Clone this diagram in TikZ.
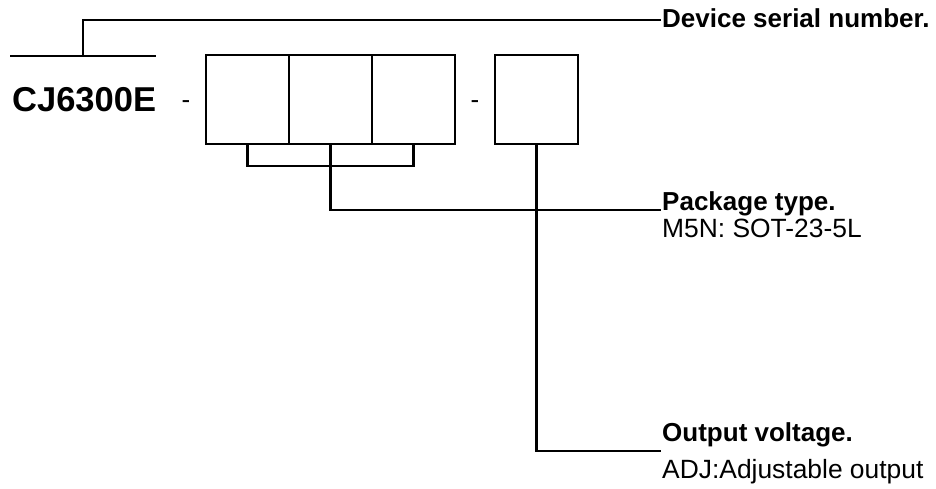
\documentclass[tikz,border=0pt]{standalone}
\usepackage{fontspec}
\setmainfont{Liberation Sans}
\begin{document}
\begin{tikzpicture}[x=1pt,y=-1pt,
  wire/.style={line width=2.6pt},
  cell/.style={draw, line width=2.6pt, minimum width=83pt, minimum height=89pt, inner sep=0pt, outer sep=0pt, anchor=north west},
  lbl/.style={anchor=base west, inner sep=0pt, font=\fontsize{26}{30}\selectfont\bfseries},
  sub/.style={anchor=base west, inner sep=0pt, font=\fontsize{26.4}{30}\selectfont},
  hyph/.style={anchor=base, inner sep=0pt, font=\fontsize{26}{30}\selectfont}]
\useasboundingbox (0,0) rectangle (936,489);
% part number
\node[anchor=base west, inner sep=0pt, font=\fontsize{34.5}{40}\selectfont\bfseries] (pn) at (12,112) {CJ6300E};
\coordinate (barL) at (10,56);
\coordinate (barR) at (156,56);
\coordinate (barM) at (83,56);
\draw[wire] (barL) -- (barR);
\node[hyph] (d1) at (186,109) {-};
\node[cell] (b1) at (206,55) {};
\node[cell] (b2) at (289,55) {};
\node[cell] (b3) at (372,55) {};
\node[hyph] (d2) at (475,109) {-};
\node[cell] (b4) at (495,55) {};
% labels
\node[lbl] (dev) at (662,28) {Device serial number.};
\node[lbl] (pkg) at (662,210) {Package type.};
\node[sub] (pkgs) at (662,237) {M5N: SOT-23-5L};
\node[lbl] (out) at (662,441) {Output voltage.};
\node[sub] (outs) at (662,478) {ADJ:Adjustable output};
\coordinate (devend) at (661,20);
\coordinate (pkgend) at (661,210);
\coordinate (outend) at (661,451);
% connectors
\draw[wire] (barM) |- (devend);
\draw[wire] (b1.south) -- ++(0,22) -| (b3.south);
\draw[wire] (b2.south) |- (pkgend);
\draw[wire] (b4.south) |- (outend);
\end{tikzpicture}
\end{document}
